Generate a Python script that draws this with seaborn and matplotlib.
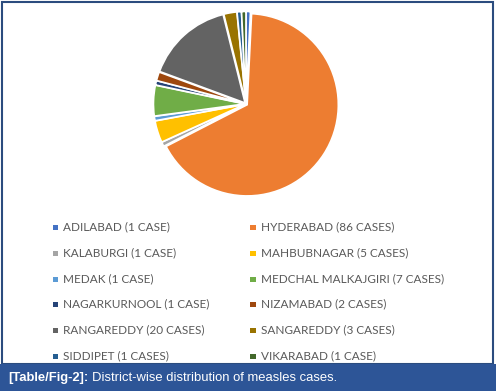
import matplotlib
matplotlib.use("Agg")
import matplotlib.pyplot as plt
import seaborn as sns
from matplotlib.patches import Rectangle

sns.set_theme(style="white")
plt.rcParams['font.family'] = ['Lato', 'DejaVu Sans']

# District-wise measles cases
districts = ["ADILABAD", "HYDERABAD", "KALABURGI", "MAHBUBNAGAR", "MEDAK",
             "MEDCHAL MALKAJGIRI", "NAGARKURNOOL", "NIZAMABAD", "RANGAREDDY",
             "SANGAREDDY", "SIDDIPET", "VIKARABAD"]
cases = [1, 86, 1, 5, 1, 7, 1, 2, 20, 3, 1, 1]
labels = ["ADILABAD (1 CASE)", "HYDERABAD (86 CASES)", "KALABURGI (1 CASE)",
          "MAHBUBNAGAR (5 CASES)", "MEDAK (1 CASE)", "MEDCHAL MALKAJGIRI (7 CASES)",
          "NAGARKURNOOL (1 CASE)", "NIZAMABAD (2 CASES)", "RANGAREDDY (20 CASES)",
          "SANGAREDDY (3 CASES)", "SIDDIPET (1 CASES)", "VIKARABAD (1 CASE)"]
colors = ["#4472C4", "#ED7D31", "#A5A5A5", "#FFC000", "#5B9BD5", "#70AD47",
          "#264478", "#9E480E", "#636363", "#997300", "#255E91", "#43682B"]
caption_bold = "[Table/Fig-2]:"
caption_rest = "District-wise distribution of measles cases."

W, H = 496, 391
fig = plt.figure(figsize=(W / 100, H / 100), dpi=100)

# frame and caption bar
fig.patches.append(Rectangle((1.5 / W, 27 / H), 491.5 / W, 362 / H, transform=fig.transFigure,
                             fill=False, edgecolor="#2b4c7e", linewidth=1.5))
fig.patches.append(Rectangle((0, 0), 1, 27 / H, transform=fig.transFigure,
                             facecolor="#2d5597", edgecolor="none"))

# pie
cx, cy, r = 246, 391 - 104, 93
ax = fig.add_axes([(cx - r) / W, (cy - r) / H, 2 * r / W, 2 * r / H])
ax.pie(cases, colors=colors, startangle=90, counterclock=False,
       explode=[0.015] * len(cases),
       wedgeprops=dict(edgecolor="white", linewidth=1.2))
ax.set_xlim(-1.02, 1.02)
ax.set_ylim(-1.02, 1.02)
ax.set_aspect("equal")
ax.axis("off")

# legend, two columns filled row by row
col_x = [55, 253]
row_y = [227, 253, 279, 304, 330, 356]
for i, (lab, col) in enumerate(zip(labels, colors)):
    x = col_x[i % 2]
    y = row_y[i // 2]
    fig.patches.append(Rectangle(((x - 2.5) / W, (H - y - 2.5) / H), 5 / W, 5 / H,
                                 transform=fig.transFigure, facecolor=col, edgecolor="none"))
    fig.text((x + 8) / W, (H - y) / H, lab, fontsize=8.5, color="#595959",
             va="center", ha="left")

# caption
t = fig.text(8 / W, 13 / H, caption_bold, fontsize=9.4, color="white", fontweight="bold",
             va="center", ha="left", family=["Liberation Sans", "DejaVu Sans"])
fig.canvas.draw()
bb = t.get_window_extent()
fig.text((bb.x1 + 4) / W, 13 / H, caption_rest, fontsize=9.4, color="white",
         va="center", ha="left", family=["Liberation Sans", "DejaVu Sans"])

fig.savefig("out.png", dpi=100)
